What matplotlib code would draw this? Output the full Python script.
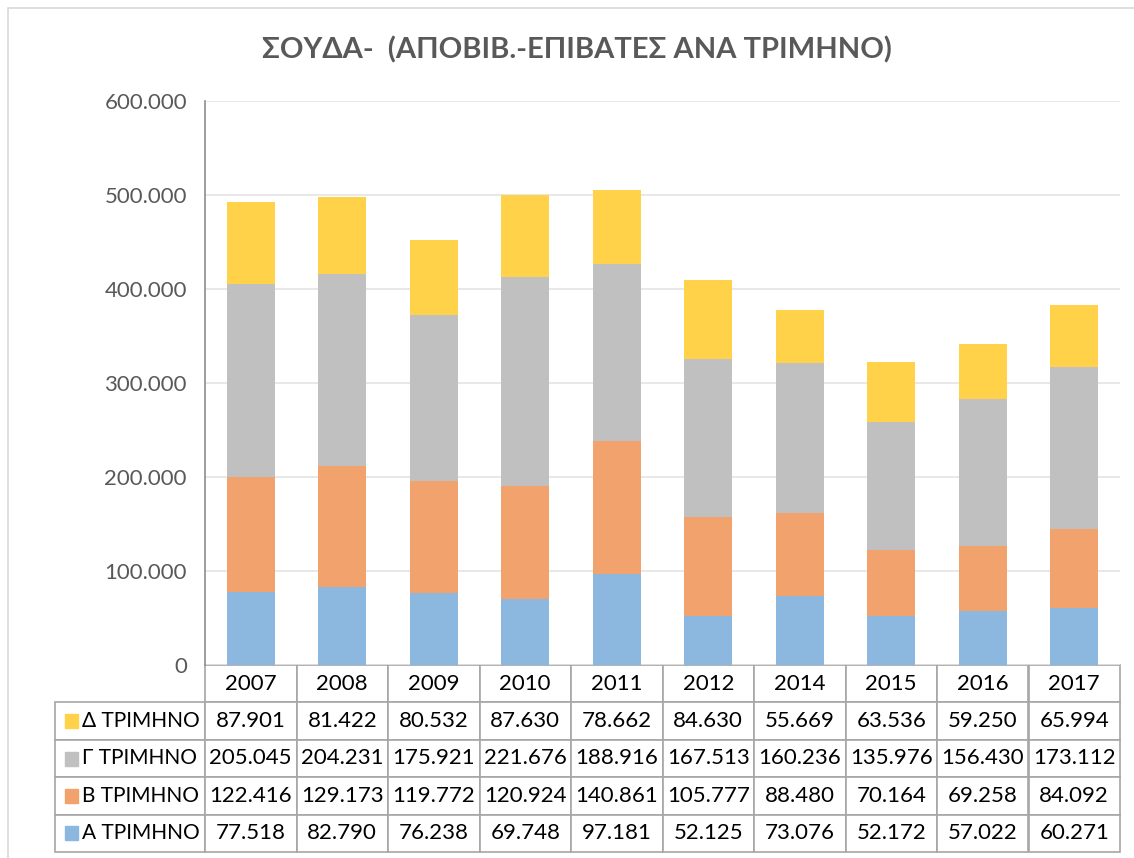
import matplotlib
matplotlib.use("Agg")
import matplotlib.pyplot as plt
import matplotlib.ticker as mticker
from matplotlib.patches import Rectangle
import numpy as np

plt.rcParams['font.family'] = ['Lato', 'Noto Sans', 'DejaVu Sans']

years = ['2007', '2008', '2009', '2010', '2011', '2012', '2014', '2015', '2016', '2017']
q_a = [77518, 82790, 76238, 69748, 97181, 52125, 73076, 52172, 57022, 60271]
q_b = [122416, 129173, 119772, 120924, 140861, 105777, 88480, 70164, 69258, 84092]
q_c = [205045, 204231, 175921, 221676, 188916, 167513, 160236, 135976, 156430, 173112]
q_d = [87901, 81422, 80532, 87630, 78662, 84630, 55669, 63536, 59250, 65994]
labels = ['Α ΤΡΙΜΗΝΟ', 'Β ΤΡΙΜΗΝΟ', 'Γ ΤΡΙΜΗΝΟ', 'Δ ΤΡΙΜΗΝΟ']
colors = ['#8cb8e0', '#f2a36d', '#c0c0c0', '#ffd24a']
title = 'ΣΟΥΔΑ-  (ΑΠΟΒΙΒ.-ΕΠΙΒΑΤΕΣ ΑΝΑ ΤΡΙΜΗΝΟ)'

W, H = 1134, 858
fig = plt.figure(figsize=(W / 100, H / 100), dpi=100)

# chart frame
fig.patches.append(Rectangle((8 / W, -0.1), 1.2, 1 - 8 / H + 0.1, transform=fig.transFigure,
                             fill=False, edgecolor='#d9d9d9', linewidth=1.2))

ax = fig.add_axes([205 / W, 1 - 665 / H, 915 / W, 564 / H])

series = [q_a, q_b, q_c, q_d]
x = np.arange(len(years))
bottom = np.zeros(len(years))
for vals, lab, col in zip(series, labels, colors):
    ax.bar(x, vals, 0.52, bottom=bottom, color=col, label=lab, zorder=2)
    bottom += np.array(vals)

ax.set_xlim(-0.5, len(years) - 0.5)
ax.set_ylim(0, 600000)
ax.yaxis.set_major_locator(mticker.MultipleLocator(100000))
ax.yaxis.set_major_formatter(mticker.FuncFormatter(lambda v, p: format(int(v), ',').replace(',', '.')))
ax.tick_params(axis='y', length=0, pad=13, labelsize=16, labelcolor='#595959')
ax.set_xticks([])
ax.grid(axis='y', color='#e4e4e4', linewidth=1.2, zorder=0)
for s in ['top', 'right', 'bottom']:
    ax.spines[s].set_visible(False)
ax.spines['left'].set_color('#8c8c8c')
ax.spines['left'].set_linewidth(1.2)

# data table under the bars
rows = labels[::-1]
cell_text = [[format(v, ',').replace(',', '.') for v in s] for s in series[::-1]]
tab_h = (852 - 665) / 564
lab_w = 150 / 91.5 * 0.1
tbl = ax.table(cellText=cell_text, rowLabels=rows, colLabels=years,
               colWidths=[0.1] * len(years), rowLoc='left',
               cellLoc='center', bbox=[0, -tab_h, 1, tab_h])
tbl._autoColumns = []
tbl.auto_set_font_size(False)
tbl.set_fontsize(16)
for (r, c), cell in tbl.get_celld().items():
    cell.set_edgecolor('#a6a6a6')
    cell.set_linewidth(1.2)
    cell.get_text().set_color('black')
    if c == -1:
        cell.set_width(lab_w)
        cell.PAD = 0.18
        cell.get_text().set_fontsize(15)

row_h = tab_h / 5
for i, col in enumerate(colors[::-1]):
    yc = -row_h * (i + 1.5)
    ax.add_patch(Rectangle((-140 / 915, yc - 7 / 564), 13 / 915, 14 / 564,
                           transform=ax.transAxes, color=col, clip_on=False))

fig.text(577 / W, 1 - 50 / H, title, ha='center', va='center', fontsize=21,
         fontweight='bold', color='#595959')

fig.savefig('out.png', dpi=100)
